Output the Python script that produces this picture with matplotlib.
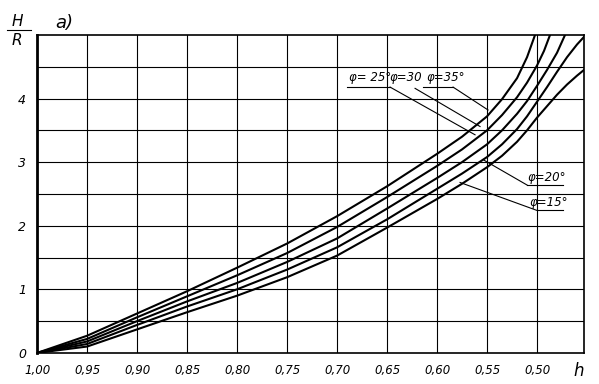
import numpy as np
import matplotlib.pyplot as plt

# relative depth h (x axis, decreasing to the right) and H/R for each angle
h_35 = [1.00, 0.95, 0.90, 0.85, 0.80, 0.75, 0.70, 0.65, 0.60, 0.575, 0.55, 0.535, 0.52, 0.51, 0.502]
hr_35 = [0, 0.27, 0.62, 0.97, 1.34, 1.72, 2.15, 2.62, 3.13, 3.40, 3.72, 3.99, 4.32, 4.65, 5.0]

h_30 = [1.00, 0.95, 0.90, 0.85, 0.80, 0.75, 0.70, 0.65, 0.60, 0.575, 0.55, 0.535, 0.52, 0.51, 0.50,
        0.493, 0.487]
hr_30 = [0, 0.22, 0.56, 0.89, 1.22, 1.57, 1.98, 2.45, 2.94, 3.20, 3.50, 3.74, 4.02, 4.25, 4.52,
         4.75, 5.0]

h_25 = [1.00, 0.95, 0.90, 0.85, 0.80, 0.75, 0.70, 0.65, 0.60, 0.575, 0.55, 0.535, 0.52, 0.51, 0.50,
        0.49, 0.48, 0.472]
hr_25 = [0, 0.18, 0.50, 0.81, 1.10, 1.43, 1.80, 2.27, 2.75, 3.00, 3.28, 3.50, 3.76, 3.96, 4.20,
         4.45, 4.72, 5.0]

h_20 = [1.00, 0.95, 0.90, 0.85, 0.80, 0.75, 0.70, 0.65, 0.60, 0.575, 0.55, 0.535, 0.52, 0.51, 0.50,
        0.49, 0.48, 0.47, 0.46, 0.453]
hr_20 = [0, 0.14, 0.44, 0.73, 1.00, 1.31, 1.66, 2.10, 2.58, 2.82, 3.08, 3.28, 3.52, 3.72, 3.95,
         4.18, 4.42, 4.65, 4.85, 4.97]

h_15 = [1.00, 0.95, 0.90, 0.85, 0.80, 0.75, 0.70, 0.65, 0.60, 0.575, 0.55, 0.535, 0.52, 0.51, 0.50,
        0.49, 0.48, 0.47, 0.46, 0.453]
hr_15 = [0, 0.10, 0.37, 0.64, 0.90, 1.19, 1.53, 1.97, 2.42, 2.66, 2.92, 3.10, 3.32, 3.50, 3.70,
         3.88, 4.06, 4.22, 4.36, 4.45]

xticks = [1.00, 0.95, 0.90, 0.85, 0.80, 0.75, 0.70, 0.65, 0.60, 0.55, 0.50]
xlabels = ['1,00', '0,95', '0,90', '0,85', '0,80', '0,75', '0,70', '0,65', '0,60', '0,55', '0,50']
yticks = [0, 1, 2, 3, 4]

fig = plt.figure(figsize=(5.99, 3.84), dpi=100)
ax = fig.add_axes([0.062, 0.081, 0.913, 0.828])
ax.set_xlim(1.0, 0.453)
ax.set_ylim(0, 5)

# grid
for xv in np.arange(0.95, 0.46, -0.05):
    ax.axvline(xv, color='black', lw=0.8, zorder=1)
for yv in np.arange(0.5, 5.0, 0.5):
    ax.axhline(yv, color='black', lw=0.8, zorder=1)

for hh, vv in [(h_35, hr_35), (h_30, hr_30), (h_25, hr_25), (h_20, hr_20), (h_15, hr_15)]:
    ax.plot(hh, vv, color='black', lw=1.5, zorder=3, solid_joinstyle='round')

ax.set_xticks(xticks)
ax.set_xticklabels(xlabels, fontstyle='italic', fontsize=8.5)
ax.set_yticks(yticks)
ax.set_yticklabels([str(t) for t in yticks], fontstyle='italic', fontsize=9)
ax.tick_params(length=0, pad=8)
for s in ax.spines.values():
    s.set_linewidth(1.2)
ax.spines['left'].set_linewidth(2)

# labels of curves with leader lines
lk = dict(color='black', lw=0.8, zorder=2)
tk = dict(fontsize=8.5, fontstyle='italic', ha='left', va='center')
ax.text(0.688, 4.33, 'φ= 25°', **tk)
ax.text(0.648, 4.33, 'φ=30', **tk)
ax.text(0.611, 4.33, 'φ=35°', **tk)
ax.plot([0.690, 0.647], [4.18, 4.18], **lk)
ax.plot([0.647, 0.562], [4.18, 3.43], **lk)
ax.plot([0.622, 0.557], [4.16, 3.56], **lk)
ax.plot([0.614, 0.584], [4.18, 4.18], **lk)
ax.plot([0.584, 0.549], [4.18, 3.82], **lk)

ax.text(0.510, 2.76, 'φ=20°', **tk)
ax.plot([0.510, 0.474], [2.64, 2.64], **lk)
ax.plot([0.510, 0.553], [2.64, 3.03], **lk)
ax.text(0.508, 2.37, 'φ=15°', **tk)
ax.plot([0.500, 0.474], [2.24, 2.24], **lk)
ax.plot([0.500, 0.577], [2.24, 2.68], **lk)

# axis names
fig.text(0.029, 0.932, 'H', fontsize=11, fontstyle='italic', ha='center')
fig.add_artist(plt.Line2D([0.012, 0.052], [0.922, 0.922], color='black', lw=0.8))
fig.text(0.028, 0.884, 'R', fontsize=11, fontstyle='italic', ha='center')
fig.text(0.092, 0.926, 'а)', fontsize=13, fontstyle='italic')
fig.text(0.958, 0.022, 'h', fontsize=12, fontstyle='italic')

fig.savefig('out.png', dpi=100)
